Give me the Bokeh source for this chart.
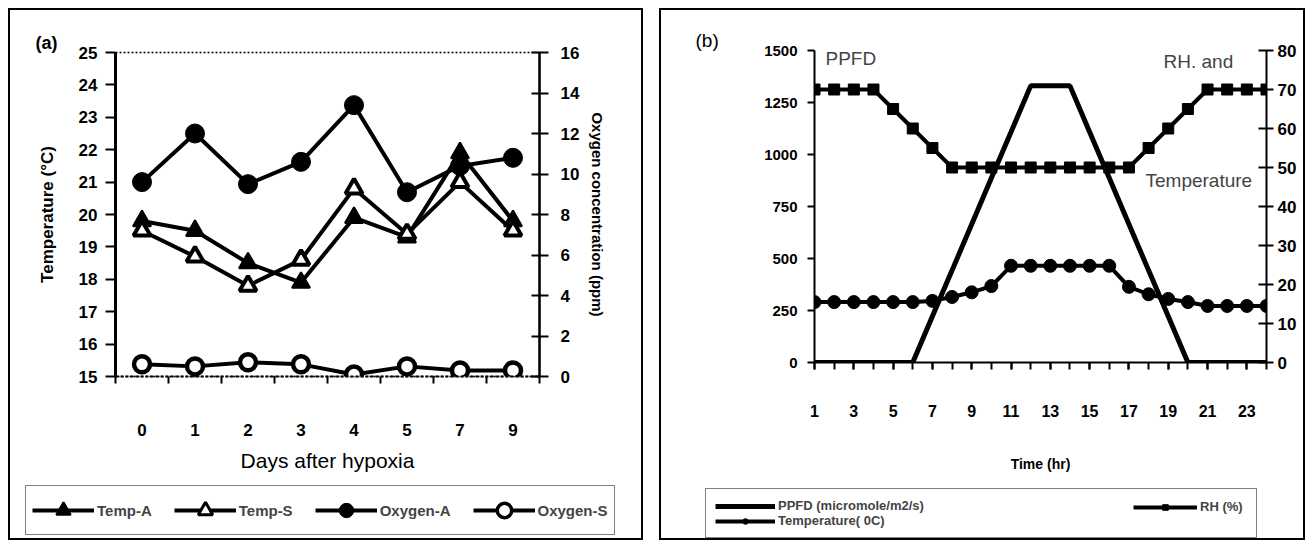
import math
from bokeh.plotting import figure
from bokeh.models import (Range1d, LinearAxis, FixedTicker, Legend, LegendItem, Label)
from bokeh.layouts import row, column
from bokeh.embed import file_html
from bokeh.resources import INLINE

FONT = "Liberation Sans"

# ---------------- Panel (a) data ----------------
days = ["0", "1", "2", "3", "4", "5", "7", "9"]
temp_a = [19.8, 19.5, 18.5, 17.9, 19.9, 19.3, 21.9, 19.8]
temp_s = [19.5, 18.7, 17.8, 18.6, 20.8, 19.4, 21.0, 19.5]
oxygen_a = [9.6, 12.0, 9.5, 10.6, 13.4, 9.1, 10.4, 10.8]
oxygen_s = [0.6, 0.5, 0.7, 0.6, 0.1, 0.5, 0.3, 0.3]
temp_ticks_a = [15, 16, 17, 18, 19, 20, 21, 22, 23, 24, 25]
oxygen_ticks = [0, 2, 4, 6, 8, 10, 12, 14, 16]

# ---------------- Panel (b) data ----------------
hours = list(range(1, 25))
hour_labels = [1, 3, 5, 7, 9, 11, 13, 15, 17, 19, 21, 23]
ppfd = [0, 0, 0, 0, 0, 0, 222, 443, 665, 887, 1108, 1330,
        1330, 1330, 1108, 887, 665, 443, 222, 0, 0, 0, 0, 0]
rh = [70, 70, 70, 70, 65, 60, 55, 50, 50, 50, 50, 50,
      50, 50, 50, 50, 50, 55, 60, 65, 70, 70, 70, 70]
temperature = [15.5, 15.5, 15.5, 15.5, 15.5, 15.5, 15.8, 16.8, 18.0, 19.6, 24.8, 24.8,
               24.8, 24.8, 24.8, 24.8, 19.4, 17.5, 16.3, 15.5, 14.5, 14.5, 14.5, 14.5]
ppfd_ticks = [0, 250, 500, 750, 1000, 1250, 1500]
rh_ticks = [0, 10, 20, 30, 40, 50, 60, 70, 80]


def box_top(w):
    # panel frame lines (top, left, right) drawn as the element background
    g = "linear-gradient(#000,#000)"
    return {"background": (f"{g} 8px 8px / {w - 16}px 2px no-repeat, "
                           f"{g} 8px 8px / 2px 100% no-repeat, "
                           f"{g} {w - 10}px 8px / 2px 100% no-repeat, #fff")}


def box_bottom(w, h):
    g = "linear-gradient(#000,#000)"
    return {"background": (f"{g} 8px {h - 10}px / {w - 16}px 2px no-repeat, "
                           f"{g} 8px 0px / 2px {h - 8}px no-repeat, "
                           f"{g} {w - 10}px 0px / 2px {h - 8}px no-repeat, #fff")}


def no_align(f):
    try:
        f.frame_align = False
    except Exception:
        pass


def style_axis(ax, size):
    ax.major_label_text_font = FONT
    ax.major_label_text_font_style = "bold"
    ax.major_label_text_font_size = size
    ax.major_label_text_color = "black"
    ax.axis_line_color = "black"
    ax.major_tick_line_color = "black"
    ax.minor_tick_line_color = "black"
    ax.axis_label_text_font = FONT
    ax.axis_label_text_color = "black"


def legend_figure(width, height):
    f = figure(width=width, height=height, x_range=Range1d(0, 1), y_range=Range1d(0, 1),
               output_backend="svg", toolbar_location=None,
               x_axis_location=None, y_axis_location=None,
               min_border=0, min_border_left=0, min_border_right=0,
               min_border_top=0, min_border_bottom=0, styles=box_bottom(width, height))
    f.xgrid.visible = False
    f.ygrid.visible = False
    f.outline_line_color = None
    f.border_fill_alpha = 0
    f.background_fill_alpha = 0
    no_align(f)
    return f


# ================= Panel (a) =================
xa = list(range(len(days)))
pa = figure(width=651, height=482, x_range=Range1d(-0.5, len(days) - 0.5),
            y_range=Range1d(15, 25), output_backend="svg", toolbar_location=None,
            x_axis_location=None, y_axis_location=None,
            min_border_left=115, min_border_right=112, min_border_top=52,
            min_border_bottom=106, styles=box_top(651))
no_align(pa)
pa.border_fill_alpha = 0
pa.background_fill_alpha = 0
pa.xgrid.visible = False
pa.ygrid.visible = False
pa.outline_line_color = "black"
pa.outline_line_dash = "2 2"
pa.outline_line_width = 1.5
pa.extra_y_ranges = {"oxy": Range1d(0, 16)}
pa.title.text = "(a)"
pa.title.align = "left"
pa.title.offset = -80
pa.title.standoff = 0
pa.title.text_font = FONT
pa.title.text_font_style = "bold"
pa.title.text_font_size = "18px"
pa.title.text_color = "black"

ax_l = LinearAxis(ticker=FixedTicker(ticks=temp_ticks_a, minor_ticks=[]))
style_axis(ax_l, "17px")
ax_l.axis_line_width = 3
ax_l.major_tick_out = 10
ax_l.major_tick_in = 0
ax_l.major_tick_line_width = 2
ax_l.major_label_standoff = 8
ax_l.axis_label = "Temperature (°C)"
ax_l.axis_label_text_font_style = "bold"
ax_l.axis_label_text_font_size = "17px"
ax_l.axis_label_standoff = 19
pa.add_layout(ax_l, "left")

ax_r = LinearAxis(y_range_name="oxy", ticker=FixedTicker(ticks=oxygen_ticks, minor_ticks=[]))
style_axis(ax_r, "17px")
ax_r.axis_line_width = 2.5
ax_r.major_tick_out = 9
ax_r.major_tick_in = 8
ax_r.major_tick_line_width = 2
ax_r.major_label_standoff = 12
ax_r.axis_label = "Oxygen concentration (ppm)"
ax_r.axis_label_text_font_style = "bold"
ax_r.axis_label_text_font_size = "15px"
ax_r.axis_label_standoff = 7
pa.add_layout(ax_r, "right")

ax_b = LinearAxis(ticker=FixedTicker(ticks=xa, minor_ticks=[i - 0.5 for i in range(len(days) + 1)]),
                  major_label_overrides={i: d for i, d in enumerate(days)})
style_axis(ax_b, "17px")
ax_b.axis_line_width = 2
ax_b.axis_line_dash = "3 2"
ax_b.major_tick_out = 0
ax_b.major_tick_in = 0
ax_b.minor_tick_out = 7
ax_b.minor_tick_in = 0
ax_b.minor_tick_line_width = 2
ax_b.major_label_standoff = 40
ax_b.axis_label = "Days after hypoxia"
ax_b.axis_label_text_font_style = "normal"
ax_b.axis_label_text_font_size = "21px"
ax_b.axis_label_standoff = 10
pa.add_layout(ax_b, "below")

pa.line(xa, temp_a, line_color="black", line_width=4)
pa.scatter(xa, temp_a, marker="triangle", size=18, fill_color="black", line_color="black", line_width=2)
pa.line(xa, temp_s, line_color="black", line_width=4)
pa.scatter(xa, temp_s, marker="triangle", size=17, fill_color="white", line_color="black", line_width=4)
pa.line(xa, oxygen_a, line_color="black", line_width=4, y_range_name="oxy")
pa.scatter(xa, oxygen_a, marker="circle", size=19, fill_color="black", line_color="black", y_range_name="oxy")
pa.line(xa, oxygen_s, line_color="black", line_width=4, y_range_name="oxy")
pa.scatter(xa, oxygen_s, marker="circle", size=16, fill_color="white", line_color="black", line_width=4.5, y_range_name="oxy")

# legend strip for panel (a): one off-canvas point per renderer, only for legend glyphs
la = legend_figure(651, 66)
off = [5]
k1 = la.line(off, off, line_color="black", line_width=4)
m1 = la.scatter(off, off, marker="triangle", size=18, fill_color="black", line_color="black", line_width=2)
k2 = la.line(off, off, line_color="black", line_width=4)
m2 = la.scatter(off, off, marker="triangle", size=17, fill_color="white", line_color="black", line_width=3)
k3 = la.line(off, off, line_color="black", line_width=4)
m3 = la.scatter(off, off, marker="circle", size=19, fill_color="black", line_color="black")
k4 = la.line(off, off, line_color="black", line_width=4)
m4 = la.scatter(off, off, marker="circle", size=16, fill_color="white", line_color="black", line_width=3.5)
leg_a = Legend(items=[LegendItem(label="Temp-A", renderers=[k1, m1]),
                      LegendItem(label="Temp-S", renderers=[k2, m2]),
                      LegendItem(label="Oxygen-A", renderers=[k3, m3]),
                      LegendItem(label="Oxygen-S", renderers=[k4, m4])],
               orientation="horizontal", location=(25, 13), margin=0,
               glyph_width=62, glyph_height=36, label_height=36, label_standoff=3,
               spacing=22, padding=6, border_line_color="black", border_line_width=1.5,
               label_text_font=FONT, label_text_font_style="bold", label_text_font_size="15px",
               background_fill_color="white", background_fill_alpha=1)
la.add_layout(leg_a)

# ================= Panel (b) =================
pb = figure(width=662, height=482, x_range=Range1d(1, 24), y_range=Range1d(0, 1500),
            output_backend="svg", toolbar_location=None,
            x_axis_location=None, y_axis_location=None,
            min_border_left=163, min_border_right=47, min_border_top=50,
            min_border_bottom=120, styles=box_top(662))
no_align(pb)
pb.border_fill_alpha = 0
pb.background_fill_alpha = 0
pb.xgrid.visible = False
pb.ygrid.visible = False
pb.outline_line_color = None
pb.extra_y_ranges = {"rh": Range1d(0, 80)}
pb.title.text = "(b)"
pb.title.align = "left"
pb.title.offset = -119
pb.title.standoff = 0
pb.title.text_font = FONT
pb.title.text_font_style = "normal"
pb.title.text_font_size = "19px"
pb.title.text_color = "black"

bx_l = LinearAxis(ticker=FixedTicker(ticks=ppfd_ticks, minor_ticks=[]))
style_axis(bx_l, "15px")
bx_l.axis_line_width = 2
bx_l.major_tick_out = 7
bx_l.major_tick_in = 0
bx_l.major_tick_line_width = 2
bx_l.major_label_standoff = 10
pb.add_layout(bx_l, "left")

bx_r = LinearAxis(y_range_name="rh", ticker=FixedTicker(ticks=rh_ticks, minor_ticks=[]))
style_axis(bx_r, "17px")
bx_r.axis_line_width = 2
bx_r.major_tick_out = 7
bx_r.major_tick_in = 8
bx_r.major_tick_line_width = 2
bx_r.major_label_standoff = 4
pb.add_layout(bx_r, "right")

bx_b = LinearAxis(ticker=FixedTicker(ticks=hour_labels, minor_ticks=hours))
style_axis(bx_b, "16px")
bx_b.axis_line_width = 2
bx_b.major_tick_out = 7
bx_b.major_tick_in = 0
bx_b.minor_tick_out = 7
bx_b.minor_tick_in = 0
bx_b.major_tick_line_width = 2
bx_b.minor_tick_line_width = 2
bx_b.major_label_standoff = 35
bx_b.axis_label = "Time (hr)"
bx_b.axis_label_text_font_style = "bold"
bx_b.axis_label_text_font_size = "14px"
bx_b.axis_label_standoff = 36
pb.add_layout(bx_b, "below")

pb.line(hours, ppfd, line_color="black", line_width=5)
pb.line(hours, rh, line_color="black", line_width=4, y_range_name="rh")
pb.scatter(hours, rh, marker="square", size=11, fill_color="black", line_color="black", y_range_name="rh")
pb.line(hours, temperature, line_color="black", line_width=4, y_range_name="rh")
pb.scatter(hours, temperature, marker="circle", size=13, fill_color="black", line_color="black", y_range_name="rh")

pb.add_layout(Label(x=11, y=304, x_units="screen", y_units="screen", text="PPFD",
                    text_font=FONT, text_font_size="19px",
                    text_baseline="middle", text_align="left"))
pb.add_layout(Label(x=349, y=301, x_units="screen", y_units="screen", text="RH. and",
                    text_font=FONT, text_font_size="19px",
                    text_baseline="middle", text_align="left"))
pb.add_layout(Label(x=331, y=182, x_units="screen", y_units="screen", text="Temperature",
                    text_font=FONT, text_font_size="19px", level="underlay",
                    text_baseline="middle", text_align="left"))

# legend strip for panel (b)
lb = legend_figure(662, 66)
q1 = lb.line(off, off, line_color="black", line_width=5)
q2 = lb.line(off, off, line_color="black", line_width=4)
r2 = lb.scatter(off, off, marker="circle", size=13, fill_color="black", line_color="black")
q3 = lb.line(off, off, line_color="black", line_width=4)
r3 = lb.scatter(off, off, marker="square", size=11, fill_color="black", line_color="black")
leg_b1 = Legend(items=[LegendItem(label="PPFD (micromole/m2/s)", renderers=[q1]),
                       LegendItem(label="Temperature( 0C)", renderers=[q2, r2])],
                orientation="vertical", location=(54, 10), margin=0,
                glyph_width=60, glyph_height=14, label_height=14, label_width=469,
                label_standoff=3, spacing=0, padding=9,
                border_line_color="black", border_line_width=1.5,
                label_text_font=FONT, label_text_font_style="bold", label_text_font_size="13px",
                background_fill_color="white", background_fill_alpha=1)
lb.add_layout(leg_b1)
leg_b2 = Legend(items=[LegendItem(label="RH (%)", renderers=[q3, r3])],
                orientation="vertical", location=(482, 34), margin=0,
                glyph_width=64, glyph_height=14, label_height=14,
                label_standoff=3, spacing=0, padding=0,
                border_line_color=None, background_fill_alpha=0,
                label_text_font=FONT, label_text_font_style="bold", label_text_font_size="13px")
lb.add_layout(leg_b2)

layout = row(column(pa, la), column(pb, lb))
open("out.html", "w").write(file_html(layout, INLINE))
